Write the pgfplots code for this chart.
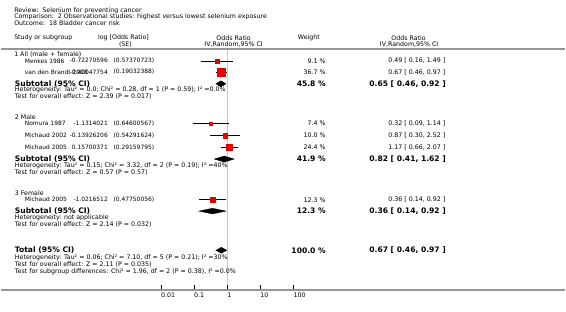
\documentclass[border=0pt]{standalone}
\usepackage{pgfplots}
\pgfplotsset{compat=1.18}
\usepackage{fontspec}
\setmainfont{DejaVu Sans}
\definecolor{sq}{RGB}{230,0,0}
\definecolor{rule}{RGB}{150,150,150}
\definecolor{vline}{RGB}{200,200,200}
\tikzset{
  t/.style={inner sep=0pt, font=\fontsize{6.3}{7}\selectfont},
  s/.style={inner sep=0pt, font=\fontsize{5.95}{7}\selectfont},
  b/.style={inner sep=0pt, font=\fontsize{7.6}{9}\selectfont\bfseries},
}
\newcommand\TL[3]{\node[t,anchor=west] at (#1,{312-#2}) {#3};}
\newcommand\TR[3]{\node[t,anchor=east] at (#1,{312-#2}) {#3};}
\newcommand\TC[3]{\node[t,anchor=center] at (#1,{312-#2}) {#3};}
\newcommand\SL[3]{\node[s,anchor=west] at (#1,{312-#2}) {#3};}
\newcommand\SR[3]{\node[s,anchor=east] at (#1,{312-#2}) {#3};}
\newcommand\BL[3]{\node[b,anchor=west] at (#1,{312-#2}) {#3};}
\newcommand\BR[3]{\node[b,anchor=east] at (#1,{312-#2}) {#3};}
\begin{document}
\begin{tikzpicture}[x=1pt,y=1pt]
\begin{axis}[
  at={(0pt,0pt)}, anchor=south west,
  width=566pt, height=312pt, scale only axis,
  xmode=log, xmin=1.4555e-7, xmax=1.6255e10,
  ymin=0, ymax=312, y dir=reverse,
  hide axis, clip=false,
]
% line of no effect
\draw[color=vline, line width=0.8pt] (axis cs:1,49) -- (axis cs:1,289);
% study squares (size ~ weight)
\addplot[only marks, mark=square*, color=sq, mark size=2.0] coordinates {(0.49,61)};
\addplot[only marks, mark=square*, color=sq, mark size=4.0] coordinates {(0.67,72.3)};
\addplot[only marks, mark=square*, color=sq, mark size=1.8] coordinates {(0.32,124)};
\addplot[only marks, mark=square*, color=sq, mark size=2.1] coordinates {(0.87,136)};
\addplot[only marks, mark=square*, color=sq, mark size=3.25] coordinates {(1.17,147.7)};
\addplot[only marks, mark=square*, color=sq, mark size=2.3] coordinates {(0.36,200.3)};
% confidence intervals
\addplot[black, line width=0.6pt] coordinates {(0.16,61) (1.49,61)};
\addplot[black, line width=0.6pt] coordinates {(0.46,72.3) (0.97,72.3)};
\addplot[black, line width=0.6pt] coordinates {(0.09,124) (1.14,124)};
\addplot[black, line width=0.6pt] coordinates {(0.30,136) (2.52,136)};
\addplot[black, line width=0.6pt] coordinates {(0.66,147.7) (2.07,147.7)};
\addplot[black, line width=0.6pt] coordinates {(0.14,200.3) (0.92,200.3)};
% diamonds
\addplot[fill=black, draw=black] coordinates {(0.46,84) (0.65,81) (0.92,84) (0.65,87)} -- cycle;
\addplot[fill=black, draw=black] coordinates {(0.41,159.5) (0.82,156.5) (1.62,159.5) (0.82,162.5)} -- cycle;
\addplot[fill=black, draw=black] coordinates {(0.14,211.7) (0.36,208.9) (0.92,211.7) (0.36,214.5)} -- cycle;
\addplot[fill=black, draw=black] coordinates {(0.46,251) (0.67,248) (0.97,251) (0.67,254)} -- cycle;
% x ticks
\foreach \v/\lab in {0.01/0.01, 0.1/0.1, 1/1, 10/10, 100/100}{
  \edef\tmp{\noexpand\draw[black, line width=0.4pt] (axis cs:\v,286) -- (axis cs:\v,290);
  \noexpand\node[t, anchor=west] at (axis cs:\v,296.5) {\lab};}
  \tmp
}
\end{axis}
\path (0,0) rectangle (566,312);
% rules
\draw[color=rule, line width=1.6pt] (0,{312-49}) -- (566,{312-49});
\draw[color=rule, line width=1.6pt] (0,{312-291}) -- (566,{312-291});
% titles
\TL{13.3}{10.8}{Review:\ \ Selenium for preventing cancer}
\TL{13.3}{17.2}{Comparison:\ \ 2 Observational studies: highest versus lowest selenium exposure}
\TL{13.3}{23.6}{Outcome:\ \ 18 Bladder cancer risk}
% headers
\TL{13.3}{38.3}{Study or subgroup}
\TC{123}{38.3}{log [Odds Ratio]}
\TC{125}{44.3}{(SE)}
\TC{233.5}{38.3}{Odds Ratio}
\TC{233.5}{44.3}{IV,Random,95\% CI}
\TC{309}{38.3}{Weight}
\TC{409}{38.3}{Odds Ratio}
\TC{409.5}{44.3}{IV,Random,95\% CI}
% group 1
\TL{13.3}{54.5}{1 All (male + female)}
\SL{24}{61}{Menkes 1986}\SR{107.5}{61}{-0.72270596}\SR{154}{61}{(0.57370723)}\TR{326}{61}{9.1 \%}\TR{446}{61}{0.49 [ 0.16, 1.49 ]}
\SL{24}{72.3}{van den Brandt 2003}\SR{107.5}{72.3}{-0.40047754}\SR{154}{72.3}{(0.19032388)}\TR{326}{72.3}{36.7 \%}\TR{446}{72.3}{0.67 [ 0.46, 0.97 ]}
\BL{14}{84}{Subtotal (95\% CI)}\BR{326}{84}{45.8 \%}\BR{446.5}{84}{0.65 [ 0.46, 0.92 ]}
\TL{14}{90.5}{Heterogeneity: Tau² = 0.0; Chi² = 0.28, df = 1 (P = 0.59); I² =0.0\%}
\TL{14}{97.3}{Test for overall effect: Z = 2.39 (P = 0.017)}
% group 2
\TL{14}{117.7}{2 Male}
\SL{24}{124}{Nomura 1987}\SR{107.5}{124}{-1.1314021}\SR{154}{124}{(0.64600567)}\TR{326}{124}{7.4 \%}\TR{446}{124}{0.32 [ 0.09, 1.14 ]}
\SL{24}{136}{Michaud 2002}\SR{107.5}{136}{-0.13926206}\SR{154}{136}{(0.54291624)}\TR{326}{136}{10.0 \%}\TR{446}{136}{0.87 [ 0.30, 2.52 ]}
\SL{24}{147.7}{Michaud 2005}\SR{107.5}{147.7}{0.15700371}\SR{154}{147.7}{(0.29159795)}\TR{326}{147.7}{24.4 \%}\TR{446}{147.7}{1.17 [ 0.66, 2.07 ]}
\BL{14}{159.5}{Subtotal (95\% CI)}\BR{326}{159.5}{41.9 \%}\BR{446.5}{159.5}{0.82 [ 0.41, 1.62 ]}
\TL{14}{166.5}{Heterogeneity: Tau² = 0.15; Chi² = 3.32, df = 2 (P = 0.19); I² =40\%}
\TL{14}{173.3}{Test for overall effect: Z = 0.57 (P = 0.57)}
% group 3
\TL{14}{193.3}{3 Female}
\SL{24}{200.3}{Michaud 2005}\SR{107.5}{200.3}{-1.0216512}\SR{154}{200.3}{(0.47750056)}\TR{326}{200.3}{12.3 \%}\TR{446}{200.3}{0.36 [ 0.14, 0.92 ]}
\BL{14}{211.7}{Subtotal (95\% CI)}\BR{326}{211.7}{12.3 \%}\BR{446.5}{211.7}{0.36 [ 0.14, 0.92 ]}
\TL{14}{218.8}{Heterogeneity: not applicable}
\TL{14}{225.5}{Test for overall effect: Z = 2.14 (P = 0.032)}
% total
\BL{14}{251}{Total (95\% CI)}\BR{326}{251}{100.0 \%}\BR{446.5}{251}{0.67 [ 0.46, 0.97 ]}
\TL{14}{258.5}{Heterogeneity: Tau² = 0.06; Chi² = 7.10, df = 5 (P = 0.21); I² =30\%}
\TL{14}{265.5}{Test for overall effect: Z = 2.11 (P = 0.035)}
\TL{14}{272.5}{Test for subgroup differences: Chi² = 1.96, df = 2 (P = 0.38), I² =0.0\%}
\end{tikzpicture}
\end{document}
